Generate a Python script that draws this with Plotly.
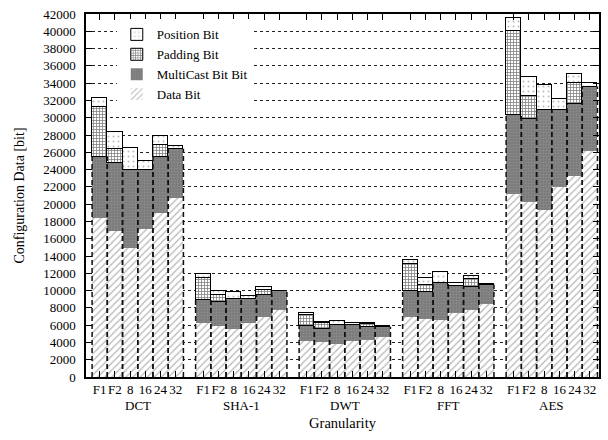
import plotly.graph_objects as go

benchmarks = ["DCT", "SHA-1", "DWT", "FFT", "AES"]
granularity = ["F1", "F2", "8", "16", "24", "32"]

data_bit = [
    [18400, 16900, 14900, 17100, 19000, 20700],
    [6300, 5900, 5500, 6300, 6900, 7800],
    [4200, 4000, 3800, 4200, 4300, 4600],
    [7000, 6700, 6600, 7400, 7800, 8400],
    [21200, 20300, 19300, 22000, 23300, 26200],
]
multicast_bit = [
    [7100, 7900, 9100, 6900, 6500, 5700],
    [2600, 2800, 3500, 2700, 2600, 2100],
    [1700, 1600, 2200, 1800, 1500, 1200],
    [3000, 3100, 4300, 3100, 2600, 2300],
    [9100, 9500, 11600, 8900, 8300, 7400],
]
padding_bit = [
    [5700, 1600, 0, 0, 1400, 0],
    [2600, 800, 0, 0, 600, 0],
    [1300, 600, 0, 0, 300, 0],
    [3100, 900, 0, 0, 900, 0],
    [9700, 2700, 0, 0, 2400, 0],
]
position_bit = [
    [1100, 2000, 2500, 1000, 1000, 300],
    [400, 500, 800, 400, 300, 100],
    [200, 200, 500, 200, 200, 100],
    [400, 800, 1200, 400, 400, 100],
    [1500, 2200, 2900, 1300, 1100, 400],
]
y_ticks = list(range(0, 42001, 2000))

GROUP_PERIOD = 6.8
xs, tick_text = [], []
for g in range(len(benchmarks)):
    for j, lab in enumerate(granularity):
        xs.append(g * GROUP_PERIOD + j + 0.5)
        tick_text.append(lab)

def flat(arr):
    return [v for row in arr for v in row]

d = flat(data_bit)
m = flat(multicast_bit)
p = flat(padding_bit)
q = flat(position_bit)

FONT = "Liberation Serif"
fig = go.Figure()
fig.add_trace(go.Bar(
    x=xs, y=d, width=1, name="Data Bit",
    marker=dict(color="white", line=dict(width=0),
                pattern=dict(shape="/", fgcolor="#6e6e6e", bgcolor="white", size=5, solidity=0.25)),
))
fig.add_trace(go.Bar(
    x=xs, y=m, width=1, name="MultiCast Bit Bit",
    marker=dict(color="#808080", line=dict(width=0),
                pattern=dict(shape=".", fgcolor="#9c9c9c", bgcolor="#7a7a7a", size=3, solidity=0.4)),
))
fig.add_trace(go.Bar(
    x=xs, y=p, width=1, name="Padding Bit",
    marker=dict(color="white", line=dict(width=1, color="black"),
                pattern=dict(shape="+", fgcolor="black", bgcolor="white", size=3, solidity=0.45)),
))
fig.add_trace(go.Bar(
    x=xs, y=q, width=1, name="Position Bit",
    marker=dict(color="white", line=dict(width=1, color="black"),
                pattern=dict(shape=".", fgcolor="#777777", bgcolor="white", size=5, solidity=0.12)),
))

# dashed outlines of data + multicast parts
lx, ly = [], []
for xc, dv, mv in zip(xs, d, m):
    top = dv + mv
    for e in (xc - 0.5, xc + 0.5):
        lx += [e, e, None]
        ly += [0, top, None]
fig.add_trace(go.Scatter(x=lx, y=ly, mode="lines", showlegend=False, hoverinfo="skip",
                         connectgaps=False,
                         line=dict(color="#111111", width=1.5, dash="5px,3px")))

for g, name in enumerate(benchmarks):
    fig.add_annotation(x=g * GROUP_PERIOD + 3, y=0, yref="paper", yshift=-28, text=name,
                       showarrow=False, font=dict(family=FONT, size=13, color="black"), yanchor="middle")

xr = [-0.4, (len(benchmarks) - 1) * GROUP_PERIOD + 6.1]
fig.update_layout(
    barmode="stack", bargap=0,
    width=608, height=440,
    margin=dict(l=86, r=7, t=14, b=63),
    plot_bgcolor="white", paper_bgcolor="white",
    font=dict(family=FONT, size=13, color="black"),
    legend=dict(x=0.06, y=0.985, xanchor="left", yanchor="top", traceorder="reversed",
                bgcolor="white", font=dict(family=FONT, size=13), tracegroupgap=0),
    xaxis=dict(range=xr, tickvals=xs, ticktext=tick_text, ticks="inside", ticklen=6,
               tickcolor="black", showline=True, mirror="ticks",
               linecolor="black", linewidth=1.5, showgrid=False, zeroline=False, tickangle=0,
               tickfont=dict(family=FONT, size=13),
               title=dict(text="Granularity", font=dict(family=FONT, size=14.5), standoff=22)),
    yaxis=dict(range=[0, 42000], tickvals=y_ticks, tickformat="d", ticks="inside", ticklen=6,
               tickcolor="black",
               showline=True, mirror="ticks", linecolor="black", linewidth=1.5,
               showgrid=True, gridcolor="#222222", griddash="3px,3px", gridwidth=1,
               zeroline=False, tickfont=dict(family=FONT, size=13), ticklabelstandoff=6,
               title=dict(text="Configuration Data [bit]", font=dict(family=FONT, size=14))),
)
fig.write_html("out.html")
